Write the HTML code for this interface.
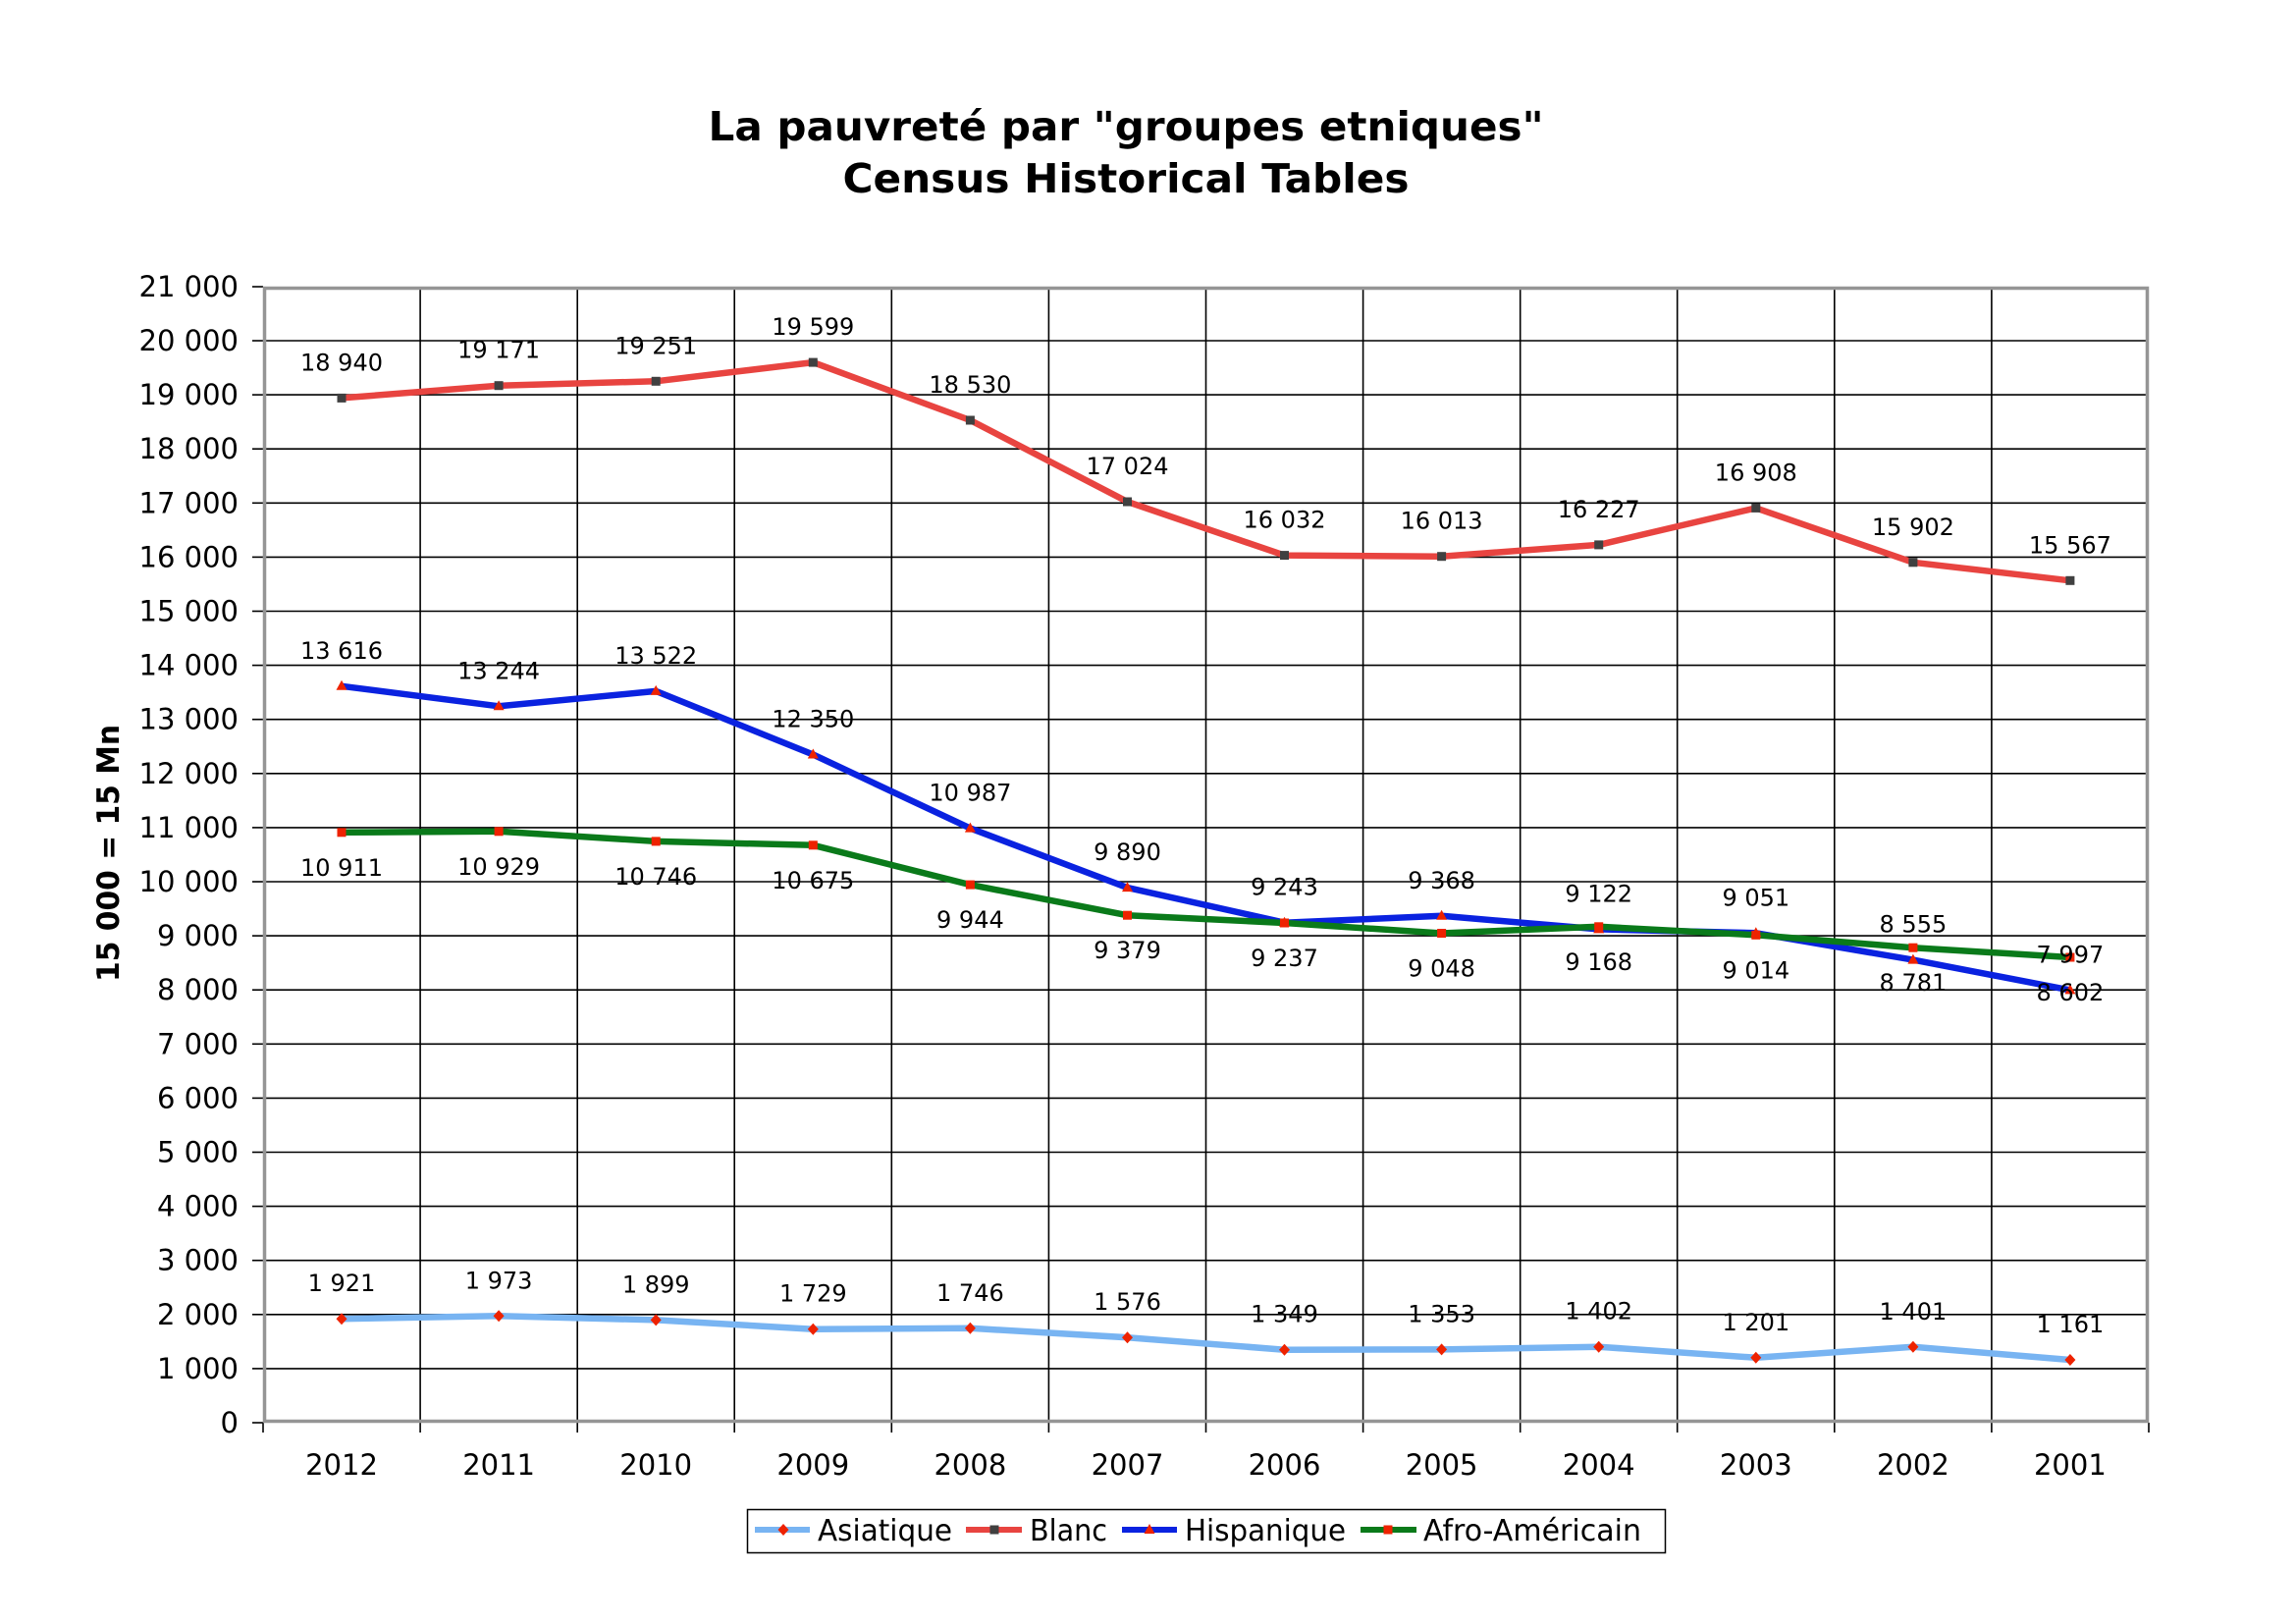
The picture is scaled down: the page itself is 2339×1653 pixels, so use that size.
<!DOCTYPE html>
<html><head><meta charset="utf-8"><style>
html,body{margin:0;padding:0;background:#fff;}
svg{display:block;}
text{font-family:"DejaVu Sans","Liberation Sans",sans-serif;fill:#000;}
.yl{font-size:29px;text-anchor:end;}
.xl{font-size:29px;text-anchor:middle;}
.dl{font-size:24px;text-anchor:middle;}
.lg{font-size:30px;}
</style></head><body>
<svg width="2339" height="1653" viewBox="0 0 2339 1653" xmlns="http://www.w3.org/2000/svg">
<defs>
<rect id="sqG" x="-4.5" y="-4.5" width="9" height="9" fill="#404040"/>
<rect id="sqR" x="-4.5" y="-4.5" width="9" height="9" fill="#ee2200"/>
<polygon id="tri" points="0,-6 -5.5,4 5.5,4" fill="#ee2200"/>
<polygon id="dia" points="0,-6 5.5,0 0,6 -5.5,0" fill="#ee2200"/>
</defs>
<rect width="2339" height="1653" fill="#fff"/>

<!-- Title -->
<text x="1147" y="143" font-size="41" font-weight="bold" text-anchor="middle" textLength="851" lengthAdjust="spacingAndGlyphs">La pauvreté par "groupes etniques"</text>
<text x="1147" y="196" font-size="41" font-weight="bold" text-anchor="middle" textLength="577" lengthAdjust="spacingAndGlyphs">Census Historical Tables</text>

<!-- Y axis title -->
<text transform="translate(121,869) rotate(-90)" font-size="31" font-weight="bold" text-anchor="middle" textLength="262" lengthAdjust="spacingAndGlyphs">15 000 = 15 Mn</text>

<!-- Gridlines -->
<g stroke="#000" stroke-width="1.6">
<line x1="268" x2="2189" y1="1393.9" y2="1393.9"/>
<line x1="268" x2="2189" y1="1338.8" y2="1338.8"/>
<line x1="268" x2="2189" y1="1283.7" y2="1283.7"/>
<line x1="268" x2="2189" y1="1228.6" y2="1228.6"/>
<line x1="268" x2="2189" y1="1173.5" y2="1173.5"/>
<line x1="268" x2="2189" y1="1118.4" y2="1118.4"/>
<line x1="268" x2="2189" y1="1063.3" y2="1063.3"/>
<line x1="268" x2="2189" y1="1008.2" y2="1008.2"/>
<line x1="268" x2="2189" y1="953.1" y2="953.1"/>
<line x1="268" x2="2189" y1="898.0" y2="898.0"/>
<line x1="268" x2="2189" y1="842.9" y2="842.9"/>
<line x1="268" x2="2189" y1="787.8" y2="787.8"/>
<line x1="268" x2="2189" y1="732.7" y2="732.7"/>
<line x1="268" x2="2189" y1="677.6" y2="677.6"/>
<line x1="268" x2="2189" y1="622.5" y2="622.5"/>
<line x1="268" x2="2189" y1="567.4" y2="567.4"/>
<line x1="268" x2="2189" y1="512.3" y2="512.3"/>
<line x1="268" x2="2189" y1="457.2" y2="457.2"/>
<line x1="268" x2="2189" y1="402.1" y2="402.1"/>
<line x1="268" x2="2189" y1="347.0" y2="347.0"/>
<line y1="292" y2="1449" x1="428.1" x2="428.1"/>
<line y1="292" y2="1449" x1="588.2" x2="588.2"/>
<line y1="292" y2="1449" x1="748.2" x2="748.2"/>
<line y1="292" y2="1449" x1="908.3" x2="908.3"/>
<line y1="292" y2="1449" x1="1068.4" x2="1068.4"/>
<line y1="292" y2="1449" x1="1228.5" x2="1228.5"/>
<line y1="292" y2="1449" x1="1388.6" x2="1388.6"/>
<line y1="292" y2="1449" x1="1548.7" x2="1548.7"/>
<line y1="292" y2="1449" x1="1708.7" x2="1708.7"/>
<line y1="292" y2="1449" x1="1868.8" x2="1868.8"/>
<line y1="292" y2="1449" x1="2028.9" x2="2028.9"/>
<!-- ticks left -->
<line x1="257" x2="268" y1="1449" y2="1449"/>
<line x1="257" x2="268" y1="1393.9" y2="1393.9"/>
<line x1="257" x2="268" y1="1338.8" y2="1338.8"/>
<line x1="257" x2="268" y1="1283.7" y2="1283.7"/>
<line x1="257" x2="268" y1="1228.6" y2="1228.6"/>
<line x1="257" x2="268" y1="1173.5" y2="1173.5"/>
<line x1="257" x2="268" y1="1118.4" y2="1118.4"/>
<line x1="257" x2="268" y1="1063.3" y2="1063.3"/>
<line x1="257" x2="268" y1="1008.2" y2="1008.2"/>
<line x1="257" x2="268" y1="953.1" y2="953.1"/>
<line x1="257" x2="268" y1="898.0" y2="898.0"/>
<line x1="257" x2="268" y1="842.9" y2="842.9"/>
<line x1="257" x2="268" y1="787.8" y2="787.8"/>
<line x1="257" x2="268" y1="732.7" y2="732.7"/>
<line x1="257" x2="268" y1="677.6" y2="677.6"/>
<line x1="257" x2="268" y1="622.5" y2="622.5"/>
<line x1="257" x2="268" y1="567.4" y2="567.4"/>
<line x1="257" x2="268" y1="512.3" y2="512.3"/>
<line x1="257" x2="268" y1="457.2" y2="457.2"/>
<line x1="257" x2="268" y1="402.1" y2="402.1"/>
<line x1="257" x2="268" y1="347.0" y2="347.0"/>
<line x1="257" x2="268" y1="292" y2="292"/>
<!-- ticks bottom -->
<line y1="1449" y2="1459" x1="268" x2="268"/>
<line y1="1449" y2="1459" x1="428.1" x2="428.1"/>
<line y1="1449" y2="1459" x1="588.2" x2="588.2"/>
<line y1="1449" y2="1459" x1="748.2" x2="748.2"/>
<line y1="1449" y2="1459" x1="908.3" x2="908.3"/>
<line y1="1449" y2="1459" x1="1068.4" x2="1068.4"/>
<line y1="1449" y2="1459" x1="1228.5" x2="1228.5"/>
<line y1="1449" y2="1459" x1="1388.6" x2="1388.6"/>
<line y1="1449" y2="1459" x1="1548.7" x2="1548.7"/>
<line y1="1449" y2="1459" x1="1708.7" x2="1708.7"/>
<line y1="1449" y2="1459" x1="1868.8" x2="1868.8"/>
<line y1="1449" y2="1459" x1="2028.9" x2="2028.9"/>
<line y1="1449" y2="1459" x1="2189" x2="2189"/>
</g>

<!-- Plot border -->
<rect x="269.5" y="293.5" width="1918" height="1154" fill="none" stroke="#959595" stroke-width="3.5"/>

<!-- Y labels -->
<g class="yl">
<text x="243" y="1459">0</text>
<text x="243" y="1403.9">1 000</text>
<text x="243" y="1348.8">2 000</text>
<text x="243" y="1293.7">3 000</text>
<text x="243" y="1238.6">4 000</text>
<text x="243" y="1183.5">5 000</text>
<text x="243" y="1128.4">6 000</text>
<text x="243" y="1073.3">7 000</text>
<text x="243" y="1018.2">8 000</text>
<text x="243" y="963.1">9 000</text>
<text x="243" y="908.0">10 000</text>
<text x="243" y="852.9">11 000</text>
<text x="243" y="797.8">12 000</text>
<text x="243" y="742.7">13 000</text>
<text x="243" y="687.6">14 000</text>
<text x="243" y="632.5">15 000</text>
<text x="243" y="577.4">16 000</text>
<text x="243" y="522.3">17 000</text>
<text x="243" y="467.2">18 000</text>
<text x="243" y="412.1">19 000</text>
<text x="243" y="357.0">20 000</text>
<text x="243" y="302">21 000</text>
</g>

<!-- X labels -->
<g class="xl">
<text x="348" y="1502">2012</text>
<text x="508.1" y="1502">2011</text>
<text x="668.2" y="1502">2010</text>
<text x="828.3" y="1502">2009</text>
<text x="988.4" y="1502">2008</text>
<text x="1148.5" y="1502">2007</text>
<text x="1308.5" y="1502">2006</text>
<text x="1468.6" y="1502">2005</text>
<text x="1628.7" y="1502">2004</text>
<text x="1788.8" y="1502">2003</text>
<text x="1948.9" y="1502">2002</text>
<text x="2108.9" y="1502">2001</text>
</g>

<!-- Series lines -->
<g fill="none" stroke-width="6.5" stroke-linejoin="round" stroke-linecap="butt">
<polyline stroke="#78b4f2" points="348,1343.2 508.1,1340.3 668.2,1344.4 828.3,1353.7 988.4,1352.8 1148.5,1362.2 1308.5,1374.7 1468.6,1374.4 1628.7,1371.7 1788.8,1382.8 1948.9,1371.8 2108.9,1385"/>
<polyline stroke="#e84440" points="348,405.4 508.1,392.7 668.2,388.3 828.3,369.1 988.4,428 1148.5,511 1308.5,565.6 1468.6,566.7 1628.7,554.9 1788.8,517.4 1948.9,572.8 2108.9,591.3"/>
<polyline stroke="#0a22e0" points="348,698.8 508.1,719.3 668.2,703.9 828.3,768.5 988.4,843.6 1148.5,904.1 1308.5,939.7 1468.6,932.8 1628.7,946.4 1788.8,950.3 1948.9,977.6 2108.9,1008.4"/>
<polyline stroke="#0a7a1a" points="348,847.8 508.1,846.8 668.2,856.9 828.3,860.8 988.4,901.1 1148.5,932.2 1308.5,940 1468.6,950.5 1628.7,943.8 1788.8,952.3 1948.9,965.2 2108.9,975"/>
</g>

<!-- Markers -->
<g>
<use href="#dia" x="348" y="1343.2"/><use href="#dia" x="508.1" y="1340.3"/><use href="#dia" x="668.2" y="1344.4"/><use href="#dia" x="828.3" y="1353.7"/><use href="#dia" x="988.4" y="1352.8"/><use href="#dia" x="1148.5" y="1362.2"/><use href="#dia" x="1308.5" y="1374.7"/><use href="#dia" x="1468.6" y="1374.4"/><use href="#dia" x="1628.7" y="1371.7"/><use href="#dia" x="1788.8" y="1382.8"/><use href="#dia" x="1948.9" y="1371.8"/><use href="#dia" x="2108.9" y="1385"/>
<use href="#sqG" x="348" y="405.4"/><use href="#sqG" x="508.1" y="392.7"/><use href="#sqG" x="668.2" y="388.3"/><use href="#sqG" x="828.3" y="369.1"/><use href="#sqG" x="988.4" y="428"/><use href="#sqG" x="1148.5" y="511"/><use href="#sqG" x="1308.5" y="565.6"/><use href="#sqG" x="1468.6" y="566.7"/><use href="#sqG" x="1628.7" y="554.9"/><use href="#sqG" x="1788.8" y="517.4"/><use href="#sqG" x="1948.9" y="572.8"/><use href="#sqG" x="2108.9" y="591.3"/>
<use href="#tri" x="348" y="698.8"/><use href="#tri" x="508.1" y="719.3"/><use href="#tri" x="668.2" y="703.9"/><use href="#tri" x="828.3" y="768.5"/><use href="#tri" x="988.4" y="843.6"/><use href="#tri" x="1148.5" y="904.1"/><use href="#tri" x="1308.5" y="939.7"/><use href="#tri" x="1468.6" y="932.8"/><use href="#tri" x="1628.7" y="946.4"/><use href="#tri" x="1788.8" y="950.3"/><use href="#tri" x="1948.9" y="977.6"/><use href="#tri" x="2108.9" y="1008.4"/>
<use href="#sqR" x="348" y="847.8"/><use href="#sqR" x="508.1" y="846.8"/><use href="#sqR" x="668.2" y="856.9"/><use href="#sqR" x="828.3" y="860.8"/><use href="#sqR" x="988.4" y="901.1"/><use href="#sqR" x="1148.5" y="932.2"/><use href="#sqR" x="1308.5" y="940"/><use href="#sqR" x="1468.6" y="950.5"/><use href="#sqR" x="1628.7" y="943.8"/><use href="#sqR" x="1788.8" y="952.3"/><use href="#sqR" x="1948.9" y="965.2"/><use href="#sqR" x="2108.9" y="975"/>
</g>

<!-- Data labels -->
<g class="dl">
<text x="348" y="377.4">18 940</text>
<text x="508.1" y="364.7">19 171</text>
<text x="668.2" y="360.3">19 251</text>
<text x="828.3" y="341.1">19 599</text>
<text x="988.4" y="400">18 530</text>
<text x="1148.5" y="483">17 024</text>
<text x="1308.5" y="537.6">16 032</text>
<text x="1468.6" y="538.7">16 013</text>
<text x="1628.7" y="526.9">16 227</text>
<text x="1788.8" y="489.4">16 908</text>
<text x="1948.9" y="544.8">15 902</text>
<text x="2108.9" y="563.3">15 567</text>

<text x="348" y="670.8">13 616</text>
<text x="508.1" y="691.3">13 244</text>
<text x="668.2" y="675.9">13 522</text>
<text x="828.3" y="740.5">12 350</text>
<text x="988.4" y="815.6">10 987</text>
<text x="1148.5" y="876.1">9 890</text>
<text x="1308.5" y="911.7">9 243</text>
<text x="1468.6" y="904.8">9 368</text>
<text x="1628.7" y="918.4">9 122</text>
<text x="1788.8" y="922.3">9 051</text>
<text x="1948.9" y="949.6">8 555</text>
<text x="2108.9" y="980.4">7 997</text>

<text x="348" y="891.8">10 911</text>
<text x="508.1" y="890.8">10 929</text>
<text x="668.2" y="900.9">10 746</text>
<text x="828.3" y="904.8">10 675</text>
<text x="988.4" y="945.1">9 944</text>
<text x="1148.5" y="976.2">9 379</text>
<text x="1308.5" y="984">9 237</text>
<text x="1468.6" y="994.5">9 048</text>
<text x="1628.7" y="987.8">9 168</text>
<text x="1788.8" y="996.3">9 014</text>
<text x="1948.9" y="1009.2">8 781</text>
<text x="2108.9" y="1019">8 602</text>

<text x="348" y="1315.2">1 921</text>
<text x="508.1" y="1312.3">1 973</text>
<text x="668.2" y="1316.4">1 899</text>
<text x="828.3" y="1325.7">1 729</text>
<text x="988.4" y="1324.8">1 746</text>
<text x="1148.5" y="1334.2">1 576</text>
<text x="1308.5" y="1346.7">1 349</text>
<text x="1468.6" y="1346.4">1 353</text>
<text x="1628.7" y="1343.7">1 402</text>
<text x="1788.8" y="1354.8">1 201</text>
<text x="1948.9" y="1343.8">1 401</text>
<text x="2108.9" y="1357">1 161</text>
</g>

<!-- Legend -->
<rect x="761.5" y="1537.5" width="935" height="44" fill="#fff" stroke="#000" stroke-width="1.5"/>
<g stroke-width="6">
<line x1="769" x2="825" y1="1558" y2="1558" stroke="#78b4f2"/>
<line x1="984" x2="1041" y1="1558" y2="1558" stroke="#e84440"/>
<line x1="1143" x2="1199" y1="1558" y2="1558" stroke="#0a22e0"/>
<line x1="1386" x2="1443" y1="1558" y2="1558" stroke="#0a7a1a"/>
</g>
<use href="#dia" x="798" y="1558"/>
<use href="#sqG" x="1013" y="1558"/>
<use href="#tri" x="1171" y="1558"/>
<use href="#sqR" x="1414" y="1558"/>
<g class="lg">
<text x="833" y="1569" textLength="137" lengthAdjust="spacingAndGlyphs">Asiatique</text>
<text x="1049" y="1569" textLength="79" lengthAdjust="spacingAndGlyphs">Blanc</text>
<text x="1207" y="1569" textLength="164" lengthAdjust="spacingAndGlyphs">Hispanique</text>
<text x="1450" y="1569" textLength="222" lengthAdjust="spacingAndGlyphs">Afro-Américain</text>
</g>
</svg>
</body></html>
